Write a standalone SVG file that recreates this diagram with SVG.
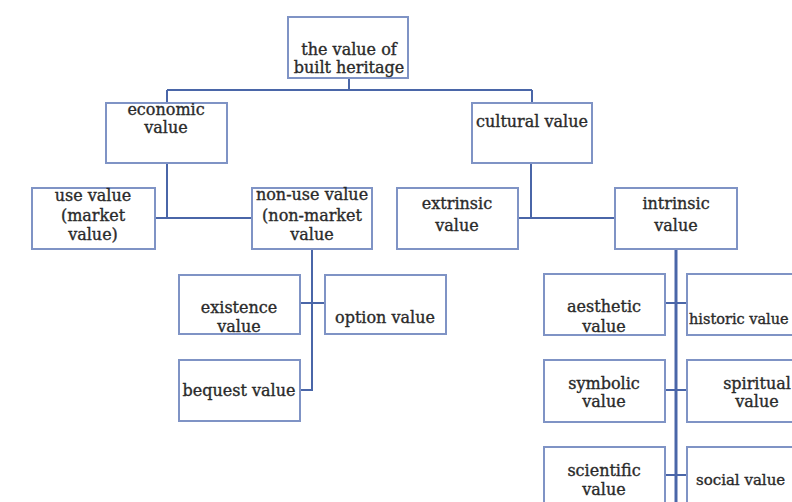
<svg xmlns="http://www.w3.org/2000/svg" width="792" height="502" viewBox="0 0 792 502">
<style>
.box{fill:#fff;stroke:#7f93c5;stroke-width:2}
.c{fill:none;stroke:#4a66a8;stroke-width:2}
text{font-family:"DejaVu Serif","Liberation Serif",serif;font-size:16px;fill:#2a2a2a;stroke:#2a2a2a;stroke-width:0.35;text-anchor:middle}
.s{text-anchor:start}
</style>
<rect width="792" height="502" fill="#fff"/>
<g id="connectors">
<path class="c" d="M349 78V90M167 90H532M167 90V103M532 90V103"/>
<path class="c" d="M167 163V218M155 218H252"/>
<path class="c" d="M312 249V390H300M300 303H325"/>
<path class="c" d="M531 163V218M518 218H615"/>
<path class="c" d="M676 249V502" style="stroke-width:3"/>
<path class="c" d="M665 303H687M665 390H687M665 475H687"/>
</g>
<g id="root"><rect class="box" x="288" y="17" width="120" height="61"/><text x="349" y="55">the value of</text><text x="349" y="73">built heritage</text></g>
<g id="economic"><rect class="box" x="106" y="103" width="121" height="60"/><text x="166" y="115">economic</text><text x="166" y="133">value</text></g>
<g id="cultural"><rect class="box" x="472" y="103" width="120" height="60"/><text x="532" y="127">cultural value</text></g>
<g id="use"><rect class="box" x="32" y="188" width="123" height="61"/><text x="93" y="201">use value</text><text x="93" y="221">(market</text><text x="93" y="240">value)</text></g>
<g id="nonuse"><rect class="box" x="252" y="188" width="120" height="61"/><text x="312" y="200">non-use value</text><text x="312" y="221">(non-market</text><text x="312" y="240">value</text></g>
<g id="extrinsic"><rect class="box" x="397" y="188" width="121" height="61"/><text x="457" y="209">extrinsic</text><text x="457" y="231">value</text></g>
<g id="intrinsic"><rect class="box" x="615" y="188" width="122" height="61"/><text x="676" y="209">intrinsic</text><text x="676" y="231">value</text></g>
<g id="existence"><rect class="box" x="179" y="275" width="121" height="59"/><text x="239" y="313">existence</text><text x="239" y="332">value</text></g>
<g id="option"><rect class="box" x="325" y="275" width="121" height="59"/><text x="385" y="323">option value</text></g>
<g id="bequest"><rect class="box" x="179" y="360" width="121" height="61"/><text x="239" y="396">bequest value</text></g>
<g id="aesthetic"><rect class="box" x="544" y="274" width="121" height="61"/><text x="604" y="312">aesthetic</text><text x="604" y="332">value</text></g>
<g id="historic"><rect class="box" x="687" y="274" width="130" height="61"/><text class="s" x="689" y="324" style="font-size:14.5px">historic value</text></g>
<g id="symbolic"><rect class="box" x="544" y="360" width="121" height="62"/><text x="604" y="389">symbolic</text><text x="604" y="407">value</text></g>
<g id="spiritual"><rect class="box" x="687" y="360" width="130" height="62"/><text x="757" y="389">spiritual</text><text x="757" y="407">value</text></g>
<g id="scientific"><rect class="box" x="544" y="447" width="121" height="70"/><text x="604" y="476">scientific</text><text x="604" y="495">value</text></g>
<g id="social"><rect class="box" x="687" y="447" width="130" height="70"/><text class="s" x="696" y="485" style="font-size:15px">social value</text></g>
</svg>
